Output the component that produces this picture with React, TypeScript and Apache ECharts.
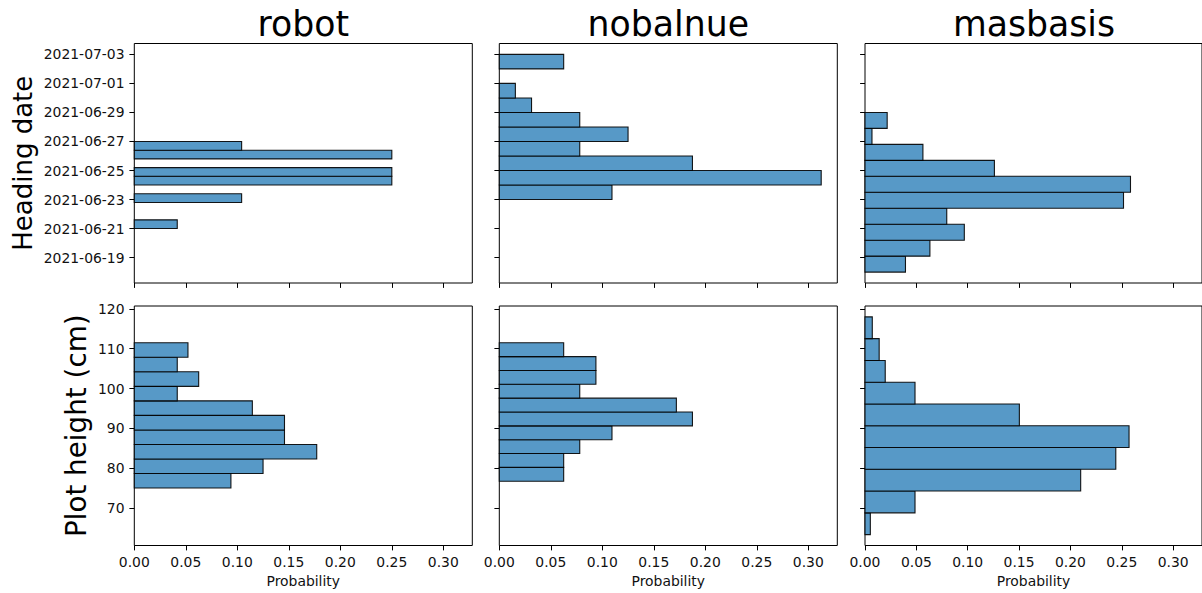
import React, { useEffect, useRef } from "react";
import * as echarts from "echarts";

// ---- data ----
const columnTitles = ["robot", "nobalnue", "masbasis"];
const rowTitles = ["Heading date", "Plot height (cm)"];

// heading date axis: values are days after 2021-06-19
const dateTickDays = [0, 2, 4, 6, 8, 10, 12, 14];
const dateTickLabels = [
  "2021-06-19",
  "2021-06-21",
  "2021-06-23",
  "2021-06-25",
  "2021-06-27",
  "2021-06-29",
  "2021-07-01",
  "2021-07-03",
];
const heightTicks = [70, 80, 90, 100, 110, 120];
const probTicks = [0, 0.05, 0.1, 0.15, 0.2, 0.25, 0.3];

// bin edges (11 each) and probabilities (10 each), bottom to top
const robotDateEdges = [2.0, 2.6, 3.2, 3.8, 4.4, 5.0, 5.6, 6.2, 6.8, 7.4, 8.0];
const robotDateProb = [0.0417, 0, 0, 0.1042, 0, 0.25, 0.25, 0, 0.25, 0.1042];

const nobalnueDateEdges = [4, 5, 6, 7, 8, 9, 10, 11, 12, 13, 14];
const nobalnueDateProb = [0.1094, 0.3125, 0.1875, 0.0781, 0.125, 0.0781, 0.0313, 0.0156, 0, 0.0625];

const masbasisDateEdges = [-1.0, 0.1, 1.2, 2.3, 3.4, 4.5, 5.6, 6.7, 7.8, 8.9, 10.0];
const masbasisDateProb = [0.0394, 0.0632, 0.0967, 0.0796, 0.2517, 0.2585, 0.126, 0.0564, 0.0068, 0.0216];

const robotHeightEdges = [75, 78.65, 82.3, 85.95, 89.6, 93.25, 96.9, 100.55, 104.2, 107.85, 111.5];
const robotHeightProb = [0.0938, 0.125, 0.1771, 0.1458, 0.1458, 0.1146, 0.0417, 0.0625, 0.0417, 0.0521];

const nobalnueHeightEdges = [76.7, 80.18, 83.66, 87.14, 90.62, 94.1, 97.58, 101.06, 104.54, 108.02, 111.5];
const nobalnueHeightProb = [0.0625, 0.0625, 0.0781, 0.1094, 0.1875, 0.1719, 0.0781, 0.0938, 0.0938, 0.0625];

const masbasisHeightEdges = [63.3, 68.77, 74.24, 79.71, 85.18, 90.65, 96.12, 101.59, 107.06, 112.53, 118.0];
const masbasisHeightProb = [0.0052, 0.0487, 0.21, 0.2442, 0.2571, 0.1503, 0.0487, 0.0197, 0.0138, 0.0071];

const panels = [
  [robotDateEdges, robotDateProb],
  [nobalnueDateEdges, nobalnueDateProb],
  [masbasisDateEdges, masbasisDateProb],
  [robotHeightEdges, robotHeightProb],
  [nobalnueHeightEdges, nobalnueHeightProb],
  [masbasisHeightEdges, masbasisHeightProb],
];

// axis limits
const probMax = 0.328125;
const dateMin = -1.75;
const dateMax = 14.75;
const heightMin = 60.565;
const heightMax = 120.735;

// ---- layout ----
const FONT = "DejaVu Sans";
const colLefts = [134.3, 499.3, 865];
const rowTops = [43.5, 306];
const panelW = 338;
const panelH = 239.5;
const BAR_FILL = "#5799c7";
const BAR_EDGE = "rgba(0,0,0,0.9)";

export default function App() {
  const ref = useRef<HTMLDivElement>(null);

  useEffect(() => {
    if (!ref.current) return;
    const chart = echarts.init(ref.current, undefined, { renderer: "svg" });

    const grids: any[] = [];
    const xAxes: any[] = [];
    const yAxes: any[] = [];
    const series: any[] = [];

    for (let r = 0; r < 2; r++) {
      for (let c = 0; c < 3; c++) {
        const i = r * 3 + c;
        grids.push({
          left: colLefts[c],
          top: rowTops[r],
          width: panelW,
          height: panelH,
          show: true,
          borderColor: "#000",
          borderWidth: 1,
          backgroundColor: "transparent",
        });
        xAxes.push({
          type: "value",
          gridIndex: i,
          position: "bottom",
          min: 0,
          max: probMax,
          splitLine: { show: false },
          axisLine: { show: false, onZero: false },
          axisTick: {
            show: true,
            length: 4.9,
            lineStyle: { color: "#000", width: 1 },
            customValues: probTicks,
          },
          axisLabel: {
            show: r === 1,
            customValues: probTicks,
            formatter: (v: number) => v.toFixed(2),
            fontFamily: FONT,
            fontSize: 13.9,
            color: "#111",
            margin: 9.8,
          },
          name: r === 1 ? "Probability" : "",
          nameLocation: "middle",
          nameGap: 28,
          nameTextStyle: { fontFamily: FONT, fontSize: 13.9, color: "#111" },
        });
        const isDate = r === 0;
        const ticks = isDate ? dateTickDays : heightTicks;
        yAxes.push({
          type: "value",
          gridIndex: i,
          position: "left",
          min: isDate ? dateMin : heightMin,
          max: isDate ? dateMax : heightMax,
          splitLine: { show: false },
          axisLine: { show: false, onZero: false },
          axisTick: {
            show: true,
            length: 4.9,
            lineStyle: { color: "#000", width: 1 },
            customValues: ticks,
          },
          axisLabel: {
            show: c === 0,
            customValues: ticks,
            formatter: (v: number) => {
              if (isDate) {
                const k = dateTickDays.indexOf(Math.round(v));
                return k >= 0 ? dateTickLabels[k] : "";
              }
              return String(Math.round(v));
            },
            fontFamily: FONT,
            fontSize: 13.9,
            color: "#111",
            margin: 9.8,
          },
        });
        const [edges, probs] = panels[i];
        const data: number[][] = [];
        for (let k = 0; k < probs.length; k++) {
          if (probs[k] > 0) data.push([edges[k], edges[k + 1], probs[k]]);
        }
        series.push({
          type: "custom",
          xAxisIndex: i,
          yAxisIndex: i,
          encode: { x: 2, y: [0, 1] },
          data,
          renderItem: (params: any, api: any) => {
            const lo = api.value(0);
            const hi = api.value(1);
            const p = api.value(2);
            const a = api.coord([0, hi]);
            const b = api.coord([p, lo]);
            return {
              type: "rect",
              shape: { x: a[0], y: a[1], width: b[0] - a[0], height: b[1] - a[1] },
              style: { fill: BAR_FILL, stroke: BAR_EDGE, lineWidth: 1.1 },
            };
          },
        });
      }
    }

    const graphics: any[] = [];
    columnTitles.forEach((t, c) => {
      graphics.push({
        type: "text",
        x: colLefts[c] + panelW / 2,
        y: 23.5,
        style: {
          text: t,
          fontFamily: FONT,
          fontSize: 34.7,
          fill: "#000",
          align: "center",
          verticalAlign: "middle",
        },
      });
    });
    const ylabelX = [23, 76];
    const ylabelSize = [26, 27.8];
    rowTitles.forEach((t, r) => {
      graphics.push({
        type: "text",
        x: ylabelX[r],
        y: rowTops[r] + panelH / 2,
        rotation: Math.PI / 2,
        style: {
          text: t,
          fontFamily: FONT,
          fontSize: ylabelSize[r],
          fill: "#000",
          align: "center",
          verticalAlign: "middle",
        },
      });
    });

    chart.setOption({
      animation: false,
      backgroundColor: "#fff",
      grid: grids,
      xAxis: xAxes,
      yAxis: yAxes,
      series,
      graphic: graphics,
    });

    return () => chart.dispose();
  }, []);

  return (
    <div
      ref={ref}
      style={{ position: "fixed", left: 0, top: 0, width: 1202, height: 593 }}
    />
  );
}
